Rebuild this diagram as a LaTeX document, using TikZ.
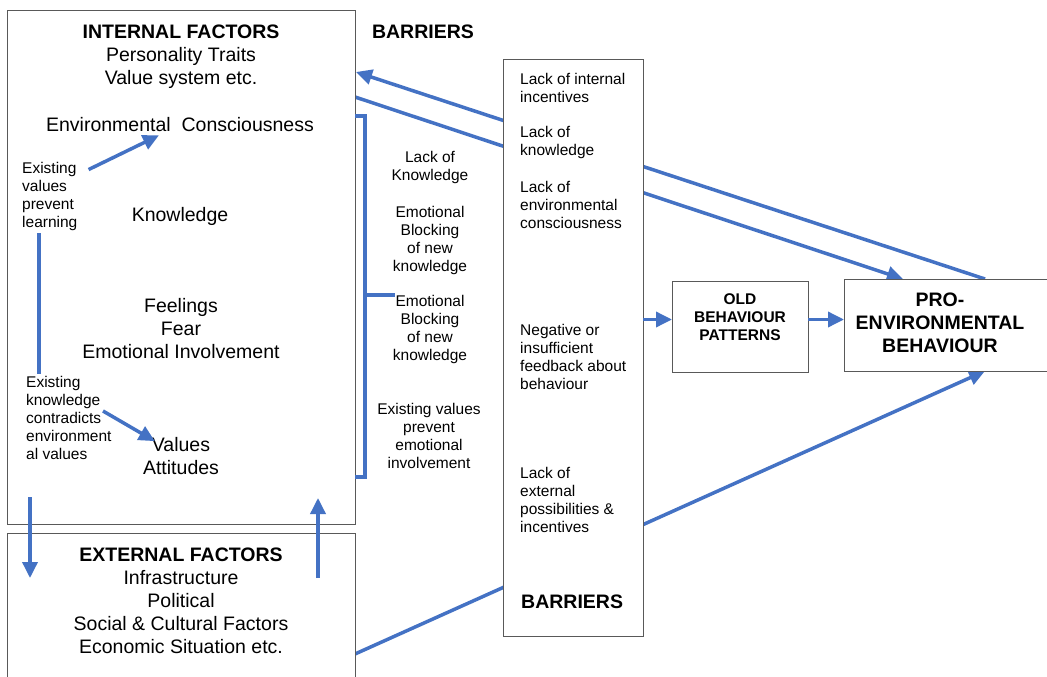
\documentclass[tikz,border=0pt]{standalone}
\usepackage{fontspec}
\setmainfont{Liberation Sans}
\usetikzlibrary{%
  calc,%
  arrows.meta,%
  backgrounds%
}
\definecolor{flowblue}{RGB}{68,114,196}
\definecolor{boxgray}{RGB}{89,89,89}

\tikzset{
  box/.style={draw=boxgray, line width=1pt, fill=white, inner sep=0pt, outer sep=0pt, anchor=north west},
  flow/.style={draw=flowblue, line width=3.5pt, -{Triangle[length=16pt,width=15pt]}},
  flowline/.style={draw=flowblue, line width=3.5pt},
  bigtext/.style={font=\fontsize{19.5}{23}\selectfont, align=center, inner sep=0pt},
  midtext/.style={font=\fontsize{15.5}{18}\selectfont, align=center, inner sep=0pt},
  notetext/.style={font=\fontsize{15.5}{18}\selectfont, align=left, inner sep=0pt, anchor=west},
  headtext/.style={font=\fontsize{19.5}{23}\selectfont\bfseries, align=center, inner sep=0pt}
}

\begin{document}
\begin{tikzpicture}[x=1pt,y=-1pt]
\path[use as bounding box] (0,0) rectangle (1047,677);
\clip (0,0) rectangle (1047,677);

\node[box, minimum width=348pt, minimum height=513pt] (intern) at (7,11) {};
\node[box, minimum width=348pt, minimum height=190pt] (extern) at (7,533) {};
\node[box, minimum width=140pt, minimum height=576pt] (barrier) at (503,60) {};
\node[box, minimum width=136pt, minimum height=91pt] (old) at (672,281) {};
\node[box, minimum width=230pt, minimum height=92pt] (pro) at (844,279) {};

\begin{scope}[on background layer]
\draw[flow] ($(pro.north west)+(141,0)$) -- ($(intern.north east)+(1,61)$);
\draw[flow] ($(intern.north east)+(0,86)$) -- ($(pro.north west)+(59,0)$);
\draw[flow] ($(extern.north east)+(0,121)$) -- ($(pro.south west)+(141,0)$);
\end{scope}

\node[bigtext] (ihead) at (181,57) {\textbf{INTERNAL FACTORS}\\Personality Traits\\Value system etc.};
\node[bigtext] (envc) at (180,125) {Environmental\ \ Consciousness};
\node[bigtext] (know) at (180,216) {Knowledge};
\node[bigtext] (feel) at (181,329) {Feelings\\Fear\\Emotional Involvement};
\node[bigtext] (vals) at (181,456) {Values\\Attitudes};
\node[notetext] (note1) at (22,196) {Existing\\values\\prevent\\learning};
\node[notetext] (note2) at (26,418) {Existing\\knowledge\\contradicts\\environment\\al values};

\node[bigtext] (ehead) at (181,601) {\textbf{EXTERNAL FACTORS}\\Infrastructure\\Political\\Social \& Cultural Factors\\Economic Situation etc.};

\node[headtext] (bartitle) at (423,32) {BARRIERS};
\node[midtext] (mid1) at (430,167) {Lack of\\Knowledge};
\node[midtext] (mid2) at (430,240) {Emotional\\Blocking\\of new\\knowledge};
\node[midtext] (mid3) at (430,329) {Emotional\\Blocking\\of new\\knowledge};
\node[midtext] (mid4) at (429,436) {Existing values\\prevent\\emotional\\involvement};

\node[notetext] (bar1) at (520,88) {Lack of internal\\incentives};
\node[notetext] (bar2) at (520,142) {Lack of\\knowledge};
\node[notetext] (bar3) at (520,205) {Lack of\\environmental\\consciousness};
\node[notetext] (bar4) at (520,357) {Negative or\\insufficient\\feedback about\\behaviour};
\node[notetext] (bar5) at (520,500) {Lack of\\external\\possibilities \&\\incentives};
\node[headtext, anchor=west] (bar6) at (521,602) {BARRIERS};

\node[midtext, font=\fontsize{15.5}{18}\selectfont\bfseries] (oldtext) at (740,317) {OLD\\BEHAVIOUR\\PATTERNS};
\node[headtext] (protext) at (940,323) {PRO-\\ENVIRONMENTAL\\BEHAVIOUR};

\draw[flow] ($(note1.north east)+(11,8)$) -- ($(envc.south west)+(113,3)$);
\draw[flowline] ($(note1.south -| 39,0)+(0,3)$) -- ($(note2.north -| 39,0)+(0,-2)$);
\draw[flow] ($(note2.west)+(77,-7)$) -- ($(vals.north west)+(12,4)$);

\draw[flow] ($(intern.south west)+(23,-27)$) -- ($(extern.north west)+(23,45)$);
\draw[flow] ($(extern.north east)+(-37,45)$) -- ($(intern.south east)+(-37,-26)$);

\draw[flowline] ($(intern.north east)+(0,105)$) -- ++(10,0) |- ($(intern.north east)+(0,466)$);
\draw[flowline] ($(intern.north east)+(10,284)$) -- ++(30,0);

\draw[flow] ($(barrier.east |- old.west)+(0,-7)$) -- ($(old.west)+(0,-7)$);
\draw[flow] ($(old.east)+(0,-7)$) -- ($(pro.west |- old.east)+(0,-7)$);
\end{tikzpicture}
\end{document}
